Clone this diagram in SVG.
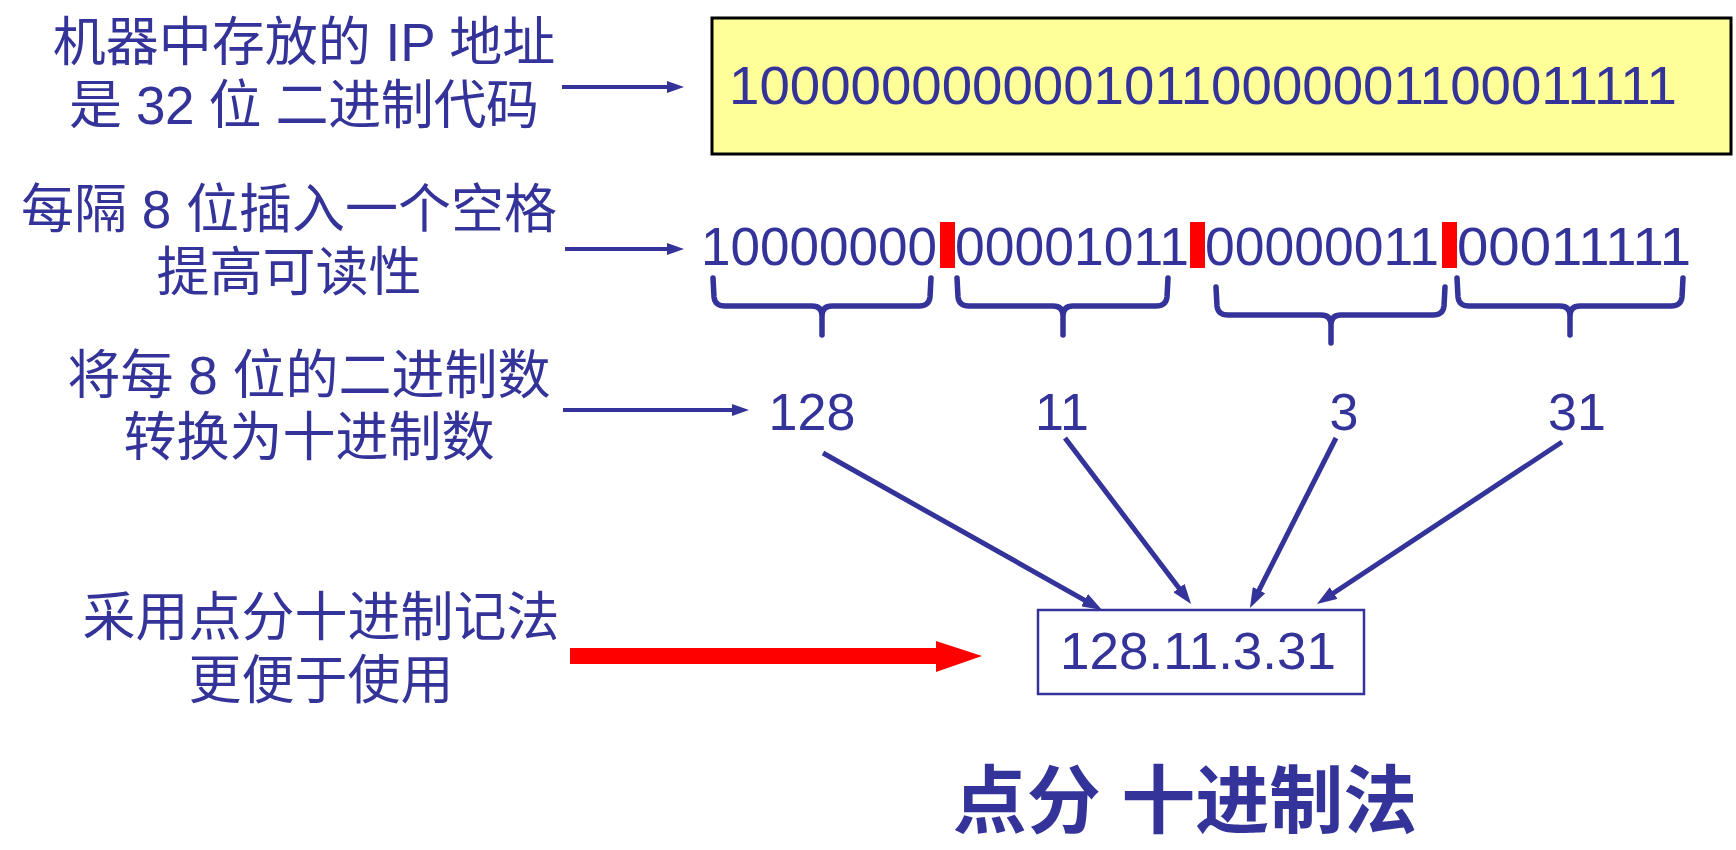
<svg xmlns="http://www.w3.org/2000/svg" width="1736" height="850" viewBox="0 0 1736 850">
  <defs>
    <style>
      .t { font-family: "Liberation Sans", "Noto Sans CJK SC", sans-serif; fill: #333399; font-size: 53px; }
      .num { font-family: "Liberation Sans", "Noto Sans CJK SC", sans-serif; fill: #333399; font-size: 52px; }
      .grp { font-family: "Liberation Sans", "Noto Sans CJK SC", sans-serif; fill: #333399; font-size: 54px; }
      .title { font-family: "Liberation Sans", "Noto Sans CJK SC", sans-serif; fill: #333399; font-size: 74px; font-weight: bold; }
      .blue { stroke: #333399; fill: none; }
      .brace { stroke: #333399; stroke-width: 5.5; fill: none; stroke-linecap: round; stroke-linejoin: round; }
      .bar { fill: #FF0000; }
    </style>
    <marker id="ahSmall" markerUnits="userSpaceOnUse" markerWidth="17" markerHeight="12" refX="8" refY="6" orient="auto">
      <path d="M0,0 L17,6 L0,12 z" fill="#333399"/>
    </marker>
    <marker id="ahDiag" markerUnits="userSpaceOnUse" markerWidth="20" markerHeight="14" refX="10" refY="7" orient="auto">
      <path d="M0,0 L20,7 L0,14 z" fill="#333399"/>
    </marker>
  </defs>
  <rect width="1736" height="850" fill="#FFFFFF"/>

  <g id="label-stored">
    <text class="t" x="304" y="61" text-anchor="middle">机器中存放的 IP 地址</text>
    <text class="t" x="304" y="124" text-anchor="middle" textLength="470" lengthAdjust="spacing">是 32 位 二进制代码</text>
  </g>

  <g id="binary-box">
    <rect x="712" y="18" width="1019" height="136" fill="#FFFF99" stroke="#000000" stroke-width="3"/>
    <text class="grp" x="729" y="104" textLength="948" lengthAdjust="spacingAndGlyphs">10000000000010110000001100011111</text>
  </g>

  <g id="label-spaces">
    <text class="t" x="289" y="228" text-anchor="middle">每隔 8 位插入一个空格</text>
    <text class="t" x="289" y="291" text-anchor="middle">提高可读性</text>
  </g>

  <g id="binary-spaced">
    <text class="grp" x="701" y="265" textLength="236" lengthAdjust="spacingAndGlyphs">10000000</text>
    <rect class="bar" x="940" y="222" width="15" height="46"/>
    <text class="grp" x="955" y="265" textLength="234" lengthAdjust="spacingAndGlyphs">00001011</text>
    <rect class="bar" x="1190" y="222" width="15" height="46"/>
    <text class="grp" x="1205" y="265" textLength="234" lengthAdjust="spacingAndGlyphs">00000011</text>
    <rect class="bar" x="1442" y="222" width="15" height="46"/>
    <text class="grp" x="1457" y="265" textLength="234" lengthAdjust="spacingAndGlyphs">00011111</text>
  </g>

  <g id="braces">
    <path class="brace" d="M713,278 L714,297 Q715,306 725,306 L812,306 Q822,306 822,316 L822,335 M822,316 Q822,306 832,306 L919,306 Q929,306 930,297 L931,278"/>
    <path class="brace" d="M957,278 L958,297 Q959,306 969,306 L1053,306 Q1063,306 1063,316 L1063,335 M1063,316 Q1063,306 1073,306 L1156,306 Q1166,306 1167,297 L1168,278"/>
    <path class="brace" d="M1216,287 L1217,306 Q1218,315 1228,315 L1321,315 Q1331,315 1331,325 L1331,343 M1331,325 Q1331,315 1341,315 L1433,315 Q1443,315 1444,306 L1445,287"/>
    <path class="brace" d="M1457,278 L1458,297 Q1459,306 1469,306 L1560,306 Q1570,306 1570,316 L1570,335 M1570,316 Q1570,306 1580,306 L1671,306 Q1681,306 1682,297 L1683,278"/>
  </g>

  <g id="label-convert">
    <text class="t" x="309" y="394" text-anchor="middle">将每 8 位的二进制数</text>
    <text class="t" x="309" y="456" text-anchor="middle">转换为十进制数</text>
  </g>

  <g id="decimals">
    <text class="num" x="812" y="430" text-anchor="middle">128</text>
    <text class="num" x="1062" y="430" text-anchor="middle">11</text>
    <text class="num" x="1344" y="430" text-anchor="middle">3</text>
    <text class="num" x="1577" y="430" text-anchor="middle">31</text>
  </g>

  <g id="label-dotted">
    <text class="t" x="321" y="636" text-anchor="middle">采用点分十进制记法</text>
    <text class="t" x="321" y="699" text-anchor="middle">更便于使用</text>
  </g>

  <g id="dotted-box">
    <rect x="1038" y="610" width="326" height="84" fill="#FFFFFF" stroke="#333399" stroke-width="2.5"/>
    <text class="num" x="1198" y="669" text-anchor="middle" textLength="276" lengthAdjust="spacingAndGlyphs">128.11.3.31</text>
  </g>

  <g id="title">
    <text class="title" x="1185" y="827" text-anchor="middle">点分 十进制法</text>
  </g>

  <g id="connectors">
    <line class="blue" x1="562" y1="87" x2="675" y2="87" stroke-width="4" marker-end="url(#ahSmall)"/>
    <line class="blue" x1="565" y1="249" x2="675" y2="249" stroke-width="4" marker-end="url(#ahSmall)"/>
    <line class="blue" x1="563" y1="410" x2="740" y2="410" stroke-width="4" marker-end="url(#ahSmall)"/>
    <line class="blue" x1="823" y1="453" x2="1093.3" y2="605.1" stroke-width="5" marker-end="url(#ahDiag)"/>
    <line class="blue" x1="1065" y1="438" x2="1185" y2="596" stroke-width="5" marker-end="url(#ahDiag)"/>
    <line class="blue" x1="1336" y1="438" x2="1254.5" y2="599.1" stroke-width="5" marker-end="url(#ahDiag)"/>
    <line class="blue" x1="1562" y1="442" x2="1325.3" y2="598.5" stroke-width="5" marker-end="url(#ahDiag)"/>
    <polygon points="570,648 936,648 936,641 982,656 936,672 936,664 570,664" fill="#FF0000"/>
  </g>
</svg>
